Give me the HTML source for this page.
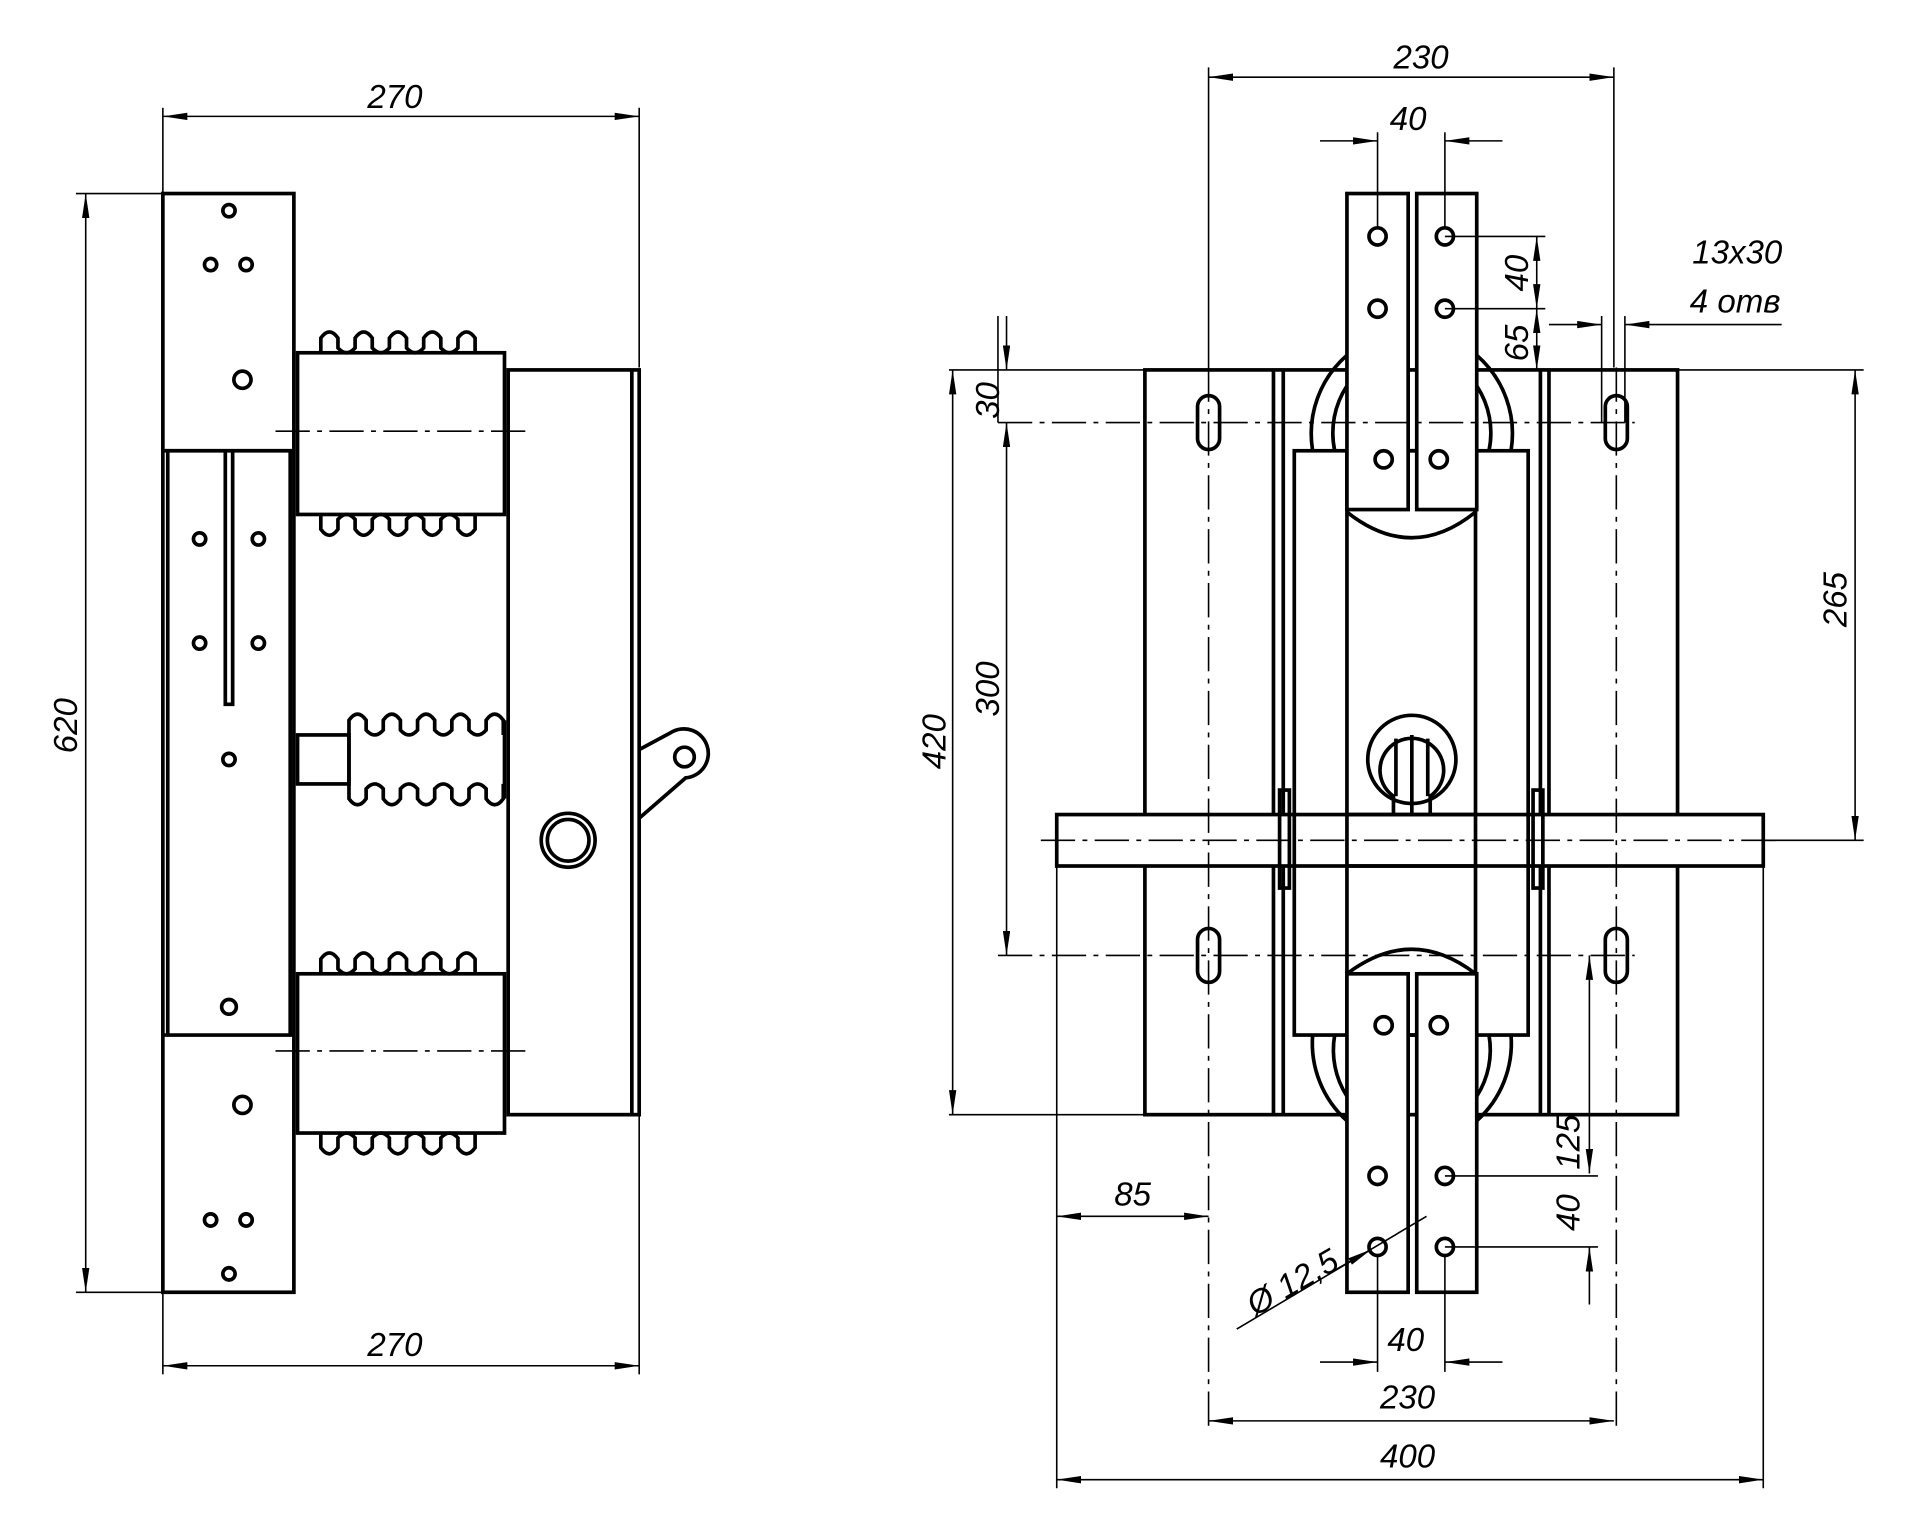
<!DOCTYPE html>
<html><head><meta charset="utf-8"><style>
html,body{margin:0;padding:0;background:#fff}
svg{display:block}
text{font-family:"Liberation Sans",sans-serif;font-style:italic;font-size:27px;fill:#000}
.t{stroke:#000;stroke-width:3;fill:none}
.n{stroke:#000;stroke-width:1.3;fill:none}
.c{stroke:#000;stroke-width:1.3;fill:none;stroke-dasharray:28 6 4 6}
</style></head><body>
<svg width="1920" height="1525" viewBox="0 0 1568 1245" preserveAspectRatio="none" xmlns="http://www.w3.org/2000/svg">
<defs>
<marker id="a" viewBox="0 0 20 6" refX="20" refY="3" markerWidth="20" markerHeight="6" orient="auto-start-reverse" markerUnits="userSpaceOnUse"><path d="M0,0 L20,3 L0,6 z" fill="#000"/></marker>
</defs>

<!-- LEFT VIEW -->
<g class="n">
<line x1="133" y1="88" x2="133" y2="158"/><line x1="522" y1="88" x2="522" y2="300"/>
<line x1="133" y1="1055" x2="133" y2="1122"/><line x1="522" y1="910" x2="522" y2="1122"/>
<line x1="62" y1="158" x2="133" y2="158"/><line x1="62" y1="1055" x2="133" y2="1055"/>
<line x1="133" y1="95" x2="522" y2="95" marker-start="url(#a)" marker-end="url(#a)"/>
<line x1="133" y1="1115" x2="522" y2="1115" marker-start="url(#a)" marker-end="url(#a)"/>
<line x1="70" y1="158" x2="70" y2="1055" marker-start="url(#a)" marker-end="url(#a)"/>
</g>
<text x="300" y="88">270</text>
<text x="300" y="1107">270</text>
<text transform="translate(63,615) rotate(-90)">620</text>

<g class="t">
<rect x="133" y="158" width="107" height="897"/>
<line x1="133" y1="368" x2="240" y2="368"/><line x1="133" y1="845" x2="240" y2="845"/>
<line x1="137" y1="368" x2="137" y2="845"/><line x1="237" y1="368" x2="237" y2="845"/>
<path d="M184,368 V575 H190 V368"/>
<circle cx="187" cy="172" r="5"/><circle cx="172" cy="216" r="5"/><circle cx="201" cy="216" r="5"/><circle cx="198" cy="310" r="7"/>
<circle cx="163" cy="440" r="5"/><circle cx="211" cy="440" r="5"/><circle cx="163" cy="525" r="5"/><circle cx="211" cy="525" r="5"/>
<circle cx="187" cy="620" r="5"/><circle cx="187" cy="822" r="6"/>
<circle cx="198" cy="902" r="7"/><circle cx="172" cy="996" r="5"/><circle cx="201" cy="996" r="5"/><circle cx="187" cy="1040" r="5"/>
<rect x="243" y="288" width="169" height="132"/>
<path d="M262,288 v-12 q7,-10 14,0 v8 q7,8 14,0 v-8 q7,-10 14,0 v8 q7,8 14,0 v-8 q7,-10 14,0 v8 q7,8 14,0 v-8 q7,-10 14,0 v8 q7,8 14,0 v-8 q7,-10 14,0 v12"/>
<path d="M262,420 v12 q7,10 14,0 v-8 q7,-8 14,0 v8 q7,10 14,0 v-8 q7,-8 14,0 v8 q7,10 14,0 v-8 q7,-8 14,0 v8 q7,10 14,0 v-8 q7,-8 14,0 v8 q7,10 14,0 v-12"/>
<rect x="243" y="795" width="169" height="130"/>
<path d="M262,795 v-12 q7,-10 14,0 v8 q7,8 14,0 v-8 q7,-10 14,0 v8 q7,8 14,0 v-8 q7,-10 14,0 v8 q7,8 14,0 v-8 q7,-10 14,0 v8 q7,8 14,0 v-8 q7,-10 14,0 v12"/>
<path d="M262,925 v12 q7,10 14,0 v-8 q7,-8 14,0 v8 q7,10 14,0 v-8 q7,-8 14,0 v8 q7,10 14,0 v-8 q7,-8 14,0 v8 q7,10 14,0 v-8 q7,-8 14,0 v8 q7,10 14,0 v-12"/>
<rect x="243" y="600" width="42" height="40"/>
<path d="M285,600 v-12 q7,-10 14,0 v8 q7,8 14,0 v-8 q7,-10 14,0 v8 q7,8 14,0 v-8 q7,-10 14,0 v8 q7,8 14,0 v-8 q7,-10 14,0 v8 q7,8 14,0 v-8 q7,-10 14,0 v12"/>
<path d="M285,640 v12 q7,10 14,0 v-8 q7,-8 14,0 v8 q7,10 14,0 v-8 q7,-8 14,0 v8 q7,10 14,0 v-8 q7,-8 14,0 v8 q7,10 14,0 v-8 q7,-8 14,0 v8 q7,10 14,0 v-12"/>
<line x1="285" y1="600" x2="285" y2="640"/><line x1="412" y1="588" x2="412" y2="652"/>
<rect x="415" y="302" width="107" height="608"/>
<line x1="516" y1="302" x2="516" y2="910"/>
<circle cx="464" cy="686" r="22"/><circle cx="464" cy="686" r="17"/>
<path d="M522,612 L548,598 A20,20 0 1,1 560,635 L522,668"/>
<circle cx="559" cy="618" r="8"/>
</g>
<line class="c" x1="225" y1="352" x2="430" y2="352"/>
<line class="c" x1="225" y1="858" x2="430" y2="858"/>

<!-- RIGHT VIEW -->
<g class="t">
<rect x="935" y="302" width="435" height="608"/>
<line x1="1040" y1="302" x2="1040" y2="910"/><line x1="1048" y1="302" x2="1048" y2="910"/>
<line x1="1258" y1="302" x2="1258" y2="910"/><line x1="1265" y1="302" x2="1265" y2="910"/>
<rect x="1057" y="368" width="191" height="477" fill="#fff"/>
<path d="M1072,368 A85,85 0 0,1 1100,290 M1090,368 A70,70 0 0,1 1100,315"/>
<path d="M1234,368 A85,85 0 0,0 1206,290 M1216,368 A70,70 0 0,0 1206,315"/>
<path d="M1072,845 A85,85 0 0,0 1100,915 M1090,845 A70,70 0 0,0 1100,895"/>
<path d="M1234,845 A85,85 0 0,1 1206,915 M1216,845 A70,70 0 0,1 1206,895"/>
<rect x="1100" y="368" width="105" height="477"/>
<path d="M1100,418 Q1153,460 1205,418"/>
<path d="M1100,795 Q1153,755 1205,795"/>
<rect x="1100" y="158" width="50" height="258" fill="#fff"/><rect x="1157" y="158" width="49" height="258" fill="#fff"/>
<rect x="1100" y="795" width="50" height="260" fill="#fff"/><rect x="1157" y="795" width="49" height="260" fill="#fff"/>
<circle cx="1125" cy="193" r="7"/><circle cx="1180" cy="193" r="7"/><circle cx="1125" cy="252" r="7"/><circle cx="1180" cy="252" r="7"/>
<circle cx="1130" cy="375" r="7"/><circle cx="1175" cy="375" r="7"/>
<circle cx="1130" cy="837" r="7"/><circle cx="1175" cy="837" r="7"/>
<circle cx="1125" cy="960" r="7"/><circle cx="1180" cy="960" r="7"/><circle cx="1125" cy="1018" r="7"/><circle cx="1180" cy="1018" r="7"/>
<rect x="863" y="665" width="577" height="42" fill="#fff"/>
<rect x="1100" y="665" width="105" height="42"/>
<line x1="1057" y1="665" x2="1057" y2="707"/><line x1="1248" y1="665" x2="1248" y2="707"/>
<rect x="1045" y="645" width="8" height="80"/><rect x="1252" y="645" width="8" height="80"/>
<rect x="978" y="323" width="18" height="44" rx="9"/><rect x="1311" y="323" width="18" height="44" rx="9"/>
<rect x="978" y="758" width="18" height="44" rx="9"/><rect x="1311" y="758" width="18" height="44" rx="9"/>
<circle cx="1153" cy="620" r="36"/>
<path d="M1138,665 V650 A26,26 0 1,1 1168,650 V665"/>
<line x1="1153" y1="600" x2="1153" y2="665"/><line x1="1140" y1="603" x2="1140" y2="650"/><line x1="1166" y1="603" x2="1166" y2="650"/>
</g>
<line class="c" x1="987" y1="300" x2="987" y2="1165"/>
<line class="c" x1="1320" y1="300" x2="1320" y2="1165"/>
<line class="c" x1="850" y1="686" x2="1455" y2="686"/>
<line class="c" x1="815" y1="345" x2="1335" y2="345"/>
<line class="c" x1="815" y1="780" x2="1335" y2="780"/>

<g class="n">
<line x1="987" y1="55" x2="987" y2="300"/><line x1="1318" y1="55" x2="1318" y2="300"/>
<line x1="987" y1="63" x2="1318" y2="63" marker-start="url(#a)" marker-end="url(#a)"/>
<line x1="1125" y1="108" x2="1125" y2="185"/><line x1="1180" y1="108" x2="1180" y2="185"/>
<line x1="1078" y1="115" x2="1125" y2="115" marker-end="url(#a)"/><line x1="1227" y1="115" x2="1180" y2="115" marker-end="url(#a)"/>
<line x1="1180" y1="193" x2="1262" y2="193"/><line x1="1180" y1="252" x2="1262" y2="252"/>
<line x1="1255" y1="193" x2="1255" y2="252" marker-start="url(#a)" marker-end="url(#a)"/>
<line x1="1255" y1="252" x2="1255" y2="302" marker-start="url(#a)" marker-end="url(#a)"/>
<line x1="1308" y1="258" x2="1308" y2="345"/><line x1="1327" y1="258" x2="1327" y2="345"/>
<line x1="1265" y1="265" x2="1308" y2="265" marker-end="url(#a)"/><line x1="1455" y1="265" x2="1327" y2="265" marker-end="url(#a)"/>
<line x1="775" y1="302" x2="935" y2="302"/><line x1="775" y1="910" x2="935" y2="910"/>
<line x1="815" y1="258" x2="815" y2="345"/>
<line x1="822" y1="258" x2="822" y2="302" marker-end="url(#a)"/>
<line x1="822" y1="345" x2="822" y2="780" marker-start="url(#a)" marker-end="url(#a)"/>
<line x1="778" y1="302" x2="778" y2="910" marker-start="url(#a)" marker-end="url(#a)"/>
<line x1="1370" y1="302" x2="1522" y2="302"/><line x1="1440" y1="686" x2="1522" y2="686"/>
<line x1="1515" y1="302" x2="1515" y2="686" marker-start="url(#a)" marker-end="url(#a)"/>
<line x1="863" y1="707" x2="863" y2="1215"/><line x1="1440" y1="707" x2="1440" y2="1215"/>
<line x1="863" y1="993" x2="987" y2="993" marker-start="url(#a)" marker-end="url(#a)"/>
<line x1="1180" y1="960" x2="1305" y2="960"/><line x1="1180" y1="1018" x2="1305" y2="1018"/>
<line x1="1298" y1="780" x2="1298" y2="958" marker-start="url(#a)" marker-end="url(#a)"/>
<line x1="1298" y1="1065" x2="1298" y2="1018" marker-end="url(#a)"/>
<line x1="1010" y1="1085" x2="1165" y2="993"/>
<line x1="1090" y1="1037" x2="1120" y2="1020" marker-end="url(#a)"/>
<line x1="1125" y1="1025" x2="1125" y2="1120"/><line x1="1180" y1="1025" x2="1180" y2="1120"/>
<line x1="1078" y1="1112" x2="1125" y2="1112" marker-end="url(#a)"/><line x1="1227" y1="1112" x2="1180" y2="1112" marker-end="url(#a)"/>
<line x1="987" y1="1160" x2="1318" y2="1160" marker-start="url(#a)" marker-end="url(#a)"/>
<line x1="863" y1="1208" x2="1440" y2="1208" marker-start="url(#a)" marker-end="url(#a)"/>
</g>
<text x="1138" y="56">230</text>
<text x="1135" y="106">40</text>
<text transform="translate(1248,238) rotate(-90)">40</text>
<text transform="translate(1248,295) rotate(-90)">65</text>
<text x="1382" y="215">13x30</text>
<text x="1380" y="255">4 отв</text>
<text transform="translate(816,342) rotate(-90)">30</text>
<text transform="translate(816,585) rotate(-90)">300</text>
<text transform="translate(772,628) rotate(-90)">420</text>
<text transform="translate(1508,512) rotate(-90)">265</text>
<text x="910" y="984">85</text>
<text transform="translate(1290,955) rotate(-90)">125</text>
<text transform="translate(1290,1005) rotate(-90)">40</text>
<text transform="translate(1025,1075) rotate(-30)">Ø 12,5</text>
<text x="1133" y="1103">40</text>
<text x="1127" y="1150">230</text>
<text x="1127" y="1198">400</text>
</svg>
</body></html>
